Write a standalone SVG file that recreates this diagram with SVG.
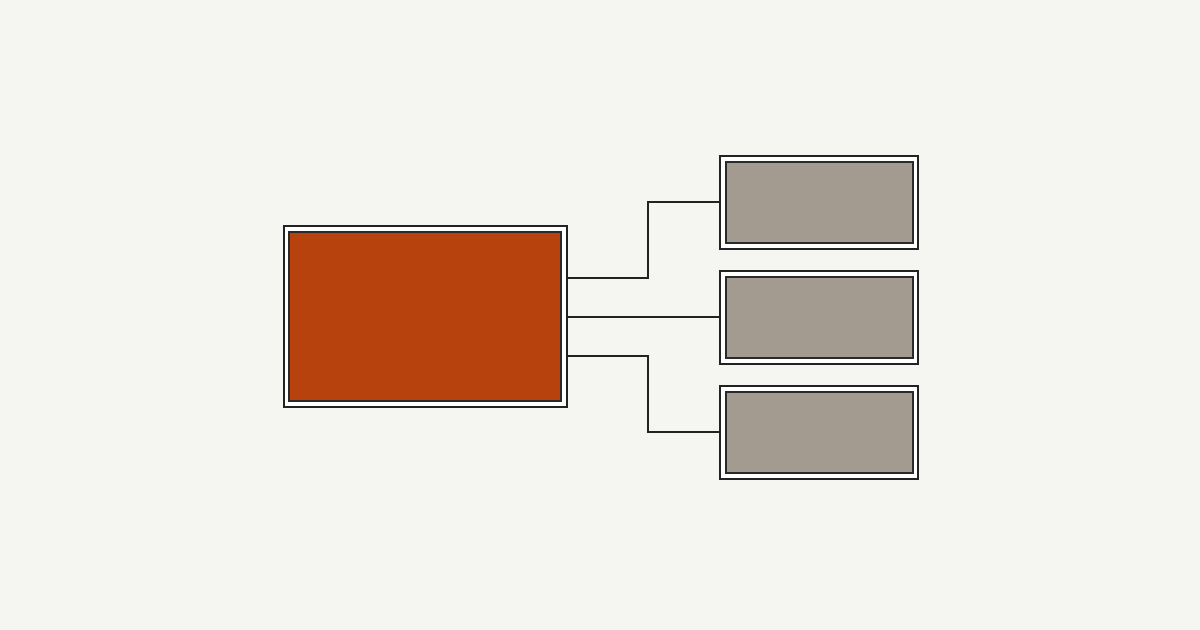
<svg xmlns="http://www.w3.org/2000/svg" width="1200" height="630" viewBox="0 0 1200 630">
<style>
.outer{fill:#ffffff;stroke:#222222;stroke-width:2}
.main{fill:#b8420e;stroke:#2a2a2a;stroke-width:2}
.sub{fill:#a39b8f;stroke:#2a2a2a;stroke-width:2}
.wire{fill:none;stroke:#222222;stroke-width:2}
</style>
<rect width="1200" height="630" fill="#f5f5f2"/>
<g id="connectors">
<polyline class="wire" points="567,278 648,278 648,202 720,202"/>
<line class="wire" x1="567" y1="317" x2="720" y2="317"/>
<polyline class="wire" points="567,356 648,356 648,432 720,432"/>
</g>
<g id="main">
<rect class="outer" x="284" y="226" width="283" height="181"/>
<rect class="main" x="289" y="232" width="272" height="169"/>
</g>
<g id="sub1">
<rect class="outer" x="720" y="156" width="198" height="93"/>
<rect class="sub" x="726" y="162" width="187" height="81"/>
</g>
<g id="sub2">
<rect class="outer" x="720" y="271" width="198" height="93"/>
<rect class="sub" x="726" y="277" width="187" height="81"/>
</g>
<g id="sub3">
<rect class="outer" x="720" y="386" width="198" height="93"/>
<rect class="sub" x="726" y="392" width="187" height="81"/>
</g>
</svg>
